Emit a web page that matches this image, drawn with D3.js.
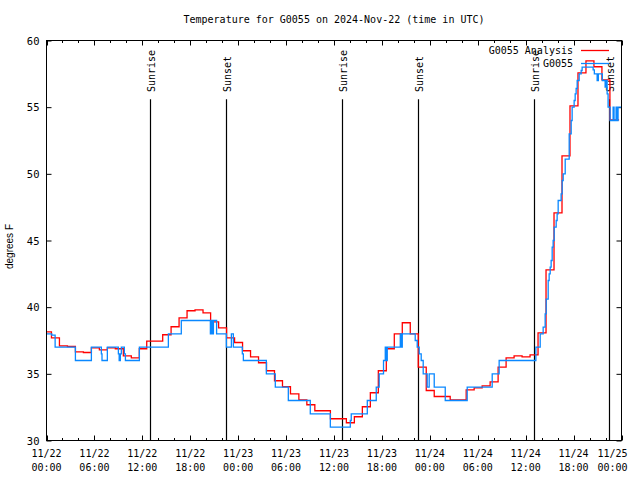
<!DOCTYPE html>
<html><head><meta charset="utf-8">
<script src="https://cdn.jsdelivr.net/npm/d3@7"></script>
<style>body{margin:0;background:#fff}svg{display:block}</style>
</head><body>
<svg id="c" width="640" height="480"></svg>
<script>
const chartTitle = "Temperature for G0055 on 2024-Nov-22 (time in UTC)";
const yLabel = "degrees F";
const seriesNames = ["G0055 Analysis", "G0055"];
const startUTC = Date.UTC(2024, 10, 22, 0, 0);
const spanHours = 72;

// Analysis (hours since 11/22 00:00 UTC, degrees F) - step series
const analysisHours = [0,0.62,1.62,2.62,3.62,4.62,5.62,6.62,7.62,8.62,9.62,10.62,11.62,12.55,13.55,14.55,15.6,16.6,17.6,18.6,19.6,20.55,21.55,22.55,23.55,24.55,25.55,26.55,27.55,28.55,29.55,30.55,31.6,32.6,33.6,34.6,35.55,36.55,37.55,38.55,39.55,40.55,41.55,42.55,43.55,44.55,45.55,46.55,47.55,48.55,49.55,50.55,51.55,52.55,53.55,54.55,55.55,56.55,57.55,58.55,59.55,60.55,61.55,62.55,63.55,64.55,65.55,66.55,67.55,68.55,69.55,70.55,71.7];
const analysisTemps = [38.15,37.7,37.1,37.05,36.65,36.6,36.95,36.8,36.95,36.88,36.35,36.2,36.88,37.45,37.45,37.93,38.53,39.2,39.73,39.8,39.57,38.9,38.45,37.7,37.35,36.73,36.27,35.83,35.23,34.48,34.03,33.5,33.05,32.68,32.23,32.23,31.63,31.63,31.33,31.78,32.53,33.58,35.23,36.88,38.0,38.83,38.0,35.5,33.75,33.3,33.3,33.05,33.05,33.8,33.95,34.1,34.4,35.5,36.2,36.35,36.27,36.42,38.07,42.8,47.07,51.35,55.1,57.57,58.47,58.03,57.05,54.05,54.05];

// Observations (change points)
const obsHours = [0,0.66,1.08,3.62,5.62,6.87,6.95,7.62,9.0,9.1,9.25,9.37,9.75,9.88,11.63,15.26,16.88,20.52,20.65,20.78,20.9,21.3,22.52,23.15,23.4,24.52,24.65,27.53,28.65,30.28,33.03,35.54,38.04,38.16,40.17,41.29,41.66,42.2,42.42,42.55,42.67,44.3,44.42,44.55,46.17,46.42,46.67,46.92,47.17,47.67,47.92,48.55,49.93,52.68,55.81,56.68,61.28,61.82,62.19,62.44,62.57,62.82,62.94,63.07,63.19,63.32,63.44,63.57,63.82,63.94,64.07,64.44,64.57,64.7,64.95,65.45,65.7,65.82,66.07,66.2,66.32,66.45,66.7,66.95,67.07,68.45,68.6,68.95,69.1,69.6,69.95,70.07,70.2,70.32,70.57,70.95,71.07,71.32,71.45,71.57,72.0];
const obsTemps = [38.0,37.9,37.0,36.0,37.0,36.5,36.0,37.0,36.5,36.0,36.5,37.0,36.5,36.0,37.0,38.0,39.0,38.0,39.0,38.0,39.0,38.0,37.0,38.0,37.0,36.5,36.0,35.0,34.0,33.0,32.0,31.0,31.5,32.0,33.0,34.0,35.0,36.0,37.0,36.0,37.0,38.0,37.0,38.0,37.5,37.0,36.5,36.0,35.0,34.0,35.0,34.0,33.0,34.0,35.0,36.0,37.0,38.0,38.5,39.5,40.6,42.0,42.5,43.0,43.5,44.5,45.0,46.0,46.5,47.0,48.0,48.5,49.5,50.0,51.1,53.0,54.0,55.0,55.5,56.0,56.4,57.0,57.5,57.75,58.0,57.8,57.5,57.0,57.5,57.0,56.5,57.0,56.0,55.0,54.0,55.0,54.0,55.0,54.0,55.0,55.0];

const sunHours = [13.0, 22.52, 37.03, 46.55, 61.06, 70.45];
const sunLabels = ["Sunrise", "Sunset", "Sunrise", "Sunset", "Sunrise", "Sunset"];
const yTickValues = [30, 35, 40, 45, 50, 55, 60];
const yDomain = [30, 60];

const toDate = h => new Date(startUTC + h * 3600000);
const svg = d3.select("#c");
const L = 46.5, R = 621.5, T = 40.5, B = 440.5;
const x = d3.scaleUtc().domain([toDate(0), toDate(spanHours)]).range([L, R]);
const y = d3.scaleLinear().domain(yDomain).range([B, T]);
const mono = "'DejaVu Sans Mono', monospace";

svg.append("rect").attr("width", 640).attr("height", 480).attr("fill", "#fff");

// ticks
const majorX = d3.utcHour.every(6).range(toDate(0), toDate(spanHours + 0.01));
const minorX = d3.utcHour.every(2).range(toDate(0), toDate(spanHours + 0.01));
function xTicks(g, size, inv) {
  g.selectAll("line").data(minorX).join("line")
    .attr("x1", d => Math.round(x(d)) + 0.5).attr("x2", d => Math.round(x(d)) + 0.5)
    .attr("y1", 0).attr("y2", d => (majorX.some(m => +m === +d) ? size : size / 2) * inv)
    .attr("stroke", "#000").attr("stroke-width", 1);
}
svg.append("g").attr("transform", `translate(0,${B})`).call(xTicks, 5, -1);
svg.append("g").attr("transform", `translate(0,${T})`).call(xTicks, 5, 1);
const yAxL = d3.axisLeft(y).tickValues(yTickValues).tickSizeInner(-5).tickSizeOuter(0).tickFormat("");
const yAxR = d3.axisRight(y).tickValues(yTickValues).tickSizeInner(-5).tickSizeOuter(0).tickFormat("");
svg.append("g").attr("transform", `translate(${L},0)`).call(yAxL).call(g => g.select(".domain").remove());
svg.append("g").attr("transform", `translate(${R},0)`).call(yAxR).call(g => g.select(".domain").remove());

// tick labels
const fmtD = d3.utcFormat("%m/%d"), fmtT = d3.utcFormat("%H:%M");
const xl = svg.append("g").attr("font-family", mono).attr("font-size", 10).attr("text-anchor", "middle").attr("fill", "#000");
majorX.forEach((d, i) => {
  const cx = i === majorX.length - 1 ? x(d) - 9 : x(d);
  const t = xl.append("text").attr("x", cx).attr("y", 457);
  t.append("tspan").attr("x", cx).text(fmtD(d));
  t.append("tspan").attr("x", cx).attr("dy", 14).text(fmtT(d));
});
svg.append("g").attr("font-family", mono).attr("font-size", 10.5).attr("text-anchor", "end")
  .selectAll("text").data(yTickValues).join("text")
  .attr("x", 39.5).attr("y", d => y(d) + 4).text(d => d);

svg.append("text").attr("transform", `translate(13,${(T + B) / 2 + 6}) rotate(-90)`)
  .attr("text-anchor", "middle").attr("font-family", "'Liberation Sans', Arial, sans-serif")
  .attr("font-size", 10).text(yLabel);
svg.append("text").attr("x", (L + R) / 2).attr("y", 23).attr("text-anchor", "middle")
  .attr("font-family", mono).attr("font-size", 10).text(chartTitle);

// sunrise / sunset
const sg = svg.append("g");
sunHours.forEach((h, i) => {
  const xx = Math.round(x(toDate(h))) + 0.5;
  sg.append("line").attr("x1", xx).attr("x2", xx).attr("y1", y(55.6)).attr("y2", B)
    .attr("stroke", "#000").attr("stroke-width", 1.2);
  sg.append("text").attr("transform", `translate(${xx + 4},92) rotate(-90)`)
    .attr("font-family", mono).attr("font-size", 10).attr("text-anchor", "start").text(sunLabels[i]);
});

// series
const line = d3.line().curve(d3.curveStepAfter).x(d => x(toDate(d[0]))).y(d => y(d[1]));
const aData = analysisHours.map((h, i) => [h, analysisTemps[i]]);
const oData = obsHours.map((h, i) => [h, obsTemps[i]]);
svg.append("path").attr("d", line(aData)).attr("fill", "none").attr("stroke", "#ff0000").attr("stroke-width", 1.3);
svg.append("path").attr("d", line(oData)).attr("fill", "none").attr("stroke", "#0a88ff").attr("stroke-width", 1.3);

// legend
const lg = svg.append("g").attr("font-family", mono).attr("font-size", 10);
[["#ff0000", 50], ["#0a88ff", 63]].forEach(([c, yy], i) => {
  lg.append("text").attr("x", 573).attr("y", yy + 4).attr("text-anchor", "end").text(seriesNames[i]);
  lg.append("line").attr("x1", 581).attr("x2", 609).attr("y1", yy + 0.5).attr("y2", yy + 0.5).attr("stroke", c).attr("stroke-width", 1.3);
});

// border
svg.append("rect").attr("x", L).attr("y", T).attr("width", R - L).attr("height", B - T)
  .attr("fill", "none").attr("stroke", "#000").attr("stroke-width", 1);
</script>
</body></html>
